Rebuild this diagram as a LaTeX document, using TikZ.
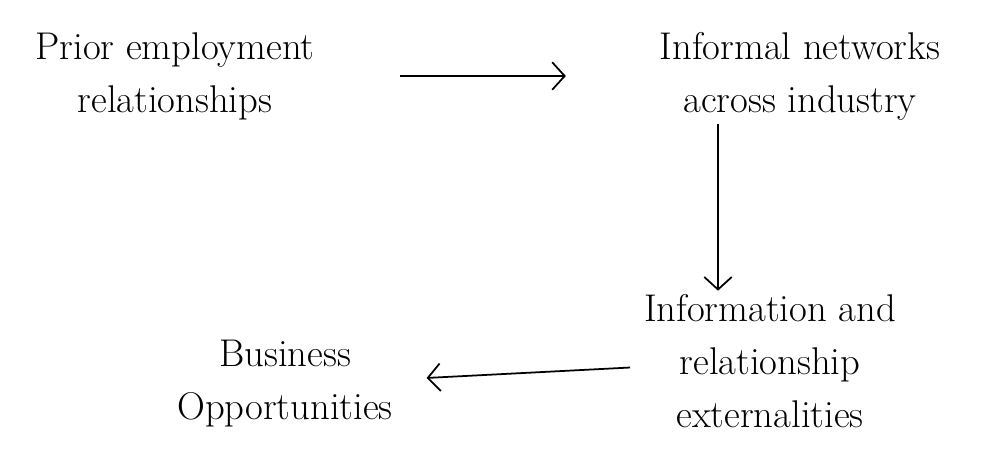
\documentclass[tikz,border=0pt]{standalone}
\usetikzlibrary{arrows,arrows.meta}

\begin{document}
\begin{tikzpicture}[box/.style={font=\fontsize{22}{30}\selectfont, align=center, inner sep=2pt},
    link/.style={-{Straight Barb[length=2.5mm,width=5.5mm]},line width=1pt}]
    \useasboundingbox (0,0) rectangle (19.76,9.02);
    \node[box] (prior) at (3.5,7.5) {Prior employment\\relationships};
    \node[box] (inform) at (16,7.5) {Informal networks\\across industry};
    \node[box] (extern) at (15.4,1.8) {Information and\\relationship\\externalities};
    \node[box] (biz) at (5.7,1.35) {Business\\Opportunities};
    \path[link]
    (prior.east) edge[shorten <=1.64cm, shorten >=1.8cm] (inform.west);
    \path[link]
    ([xshift=-1.64cm]inform.south) edge ([xshift=-1.04cm]extern.north);
    \path[link]
    ([yshift=-0.12cm]extern.west) edge[shorten <=0.2cm, shorten >=0.6cm] ([yshift=0.08cm]biz.east);
  \end{tikzpicture}
\end{document}
